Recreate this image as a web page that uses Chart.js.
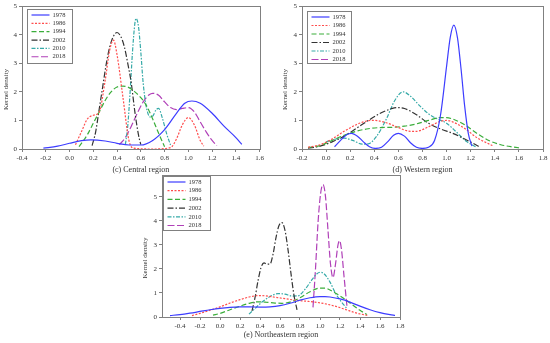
<!DOCTYPE html>
<html>
<head>
<meta charset="utf-8">
<script src="https://cdn.jsdelivr.net/npm/chart.js@4"></script>
<style>
  body { margin: 0; background: #fff; width: 550px; height: 343px; overflow: hidden; position: relative; }
  canvas { position: absolute; }
</style>
</head>
<body>
<canvas id="central" width="266" height="178" style="left:0;top:0"></canvas>
<canvas id="western" width="275" height="178" style="left:275px;top:0"></canvas>
<canvas id="northeast" width="290" height="178" style="left:130px;top:165px"></canvas>
<script>
const years = ['1978', '1986', '1994', '2002', '2010', '2018'];
const colors = ['#3d3dff', '#ff4d4d', '#3aad3a', '#333333', '#36aaa8', '#b040b8'];
const dashes = [[], [2, 1.5], [5, 2.5], [6, 2, 1.5, 2], [4, 1.5, 1.5, 1.5], [7, 2.5]];

// x ticks per panel
const ticksC = [-0.4, -0.2, 0, 0.2, 0.4, 0.6, 0.8, 1.0, 1.2, 1.4, 1.6];
const ticksD = [-0.2, 0, 0.2, 0.4, 0.6, 0.8, 1.0, 1.2, 1.4, 1.6, 1.8];
const ticksE = [-0.4, -0.2, 0, 0.2, 0.4, 0.6, 0.8, 1.0, 1.2, 1.4, 1.6, 1.8];
const yTicks = [0, 1, 2, 3, 4, 5];

// (c) Central region
const central1978 = [[-0.22,0.03],[-0.1,0.1],[0,0.2],[0.1,0.29],[0.18,0.32],[0.3,0.28],[0.4,0.2],[0.5,0.14],[0.6,0.14],[0.7,0.3],[0.8,0.68],[0.9,1.25],[0.97,1.6],[1.03,1.68],[1.1,1.6],[1.2,1.25],[1.3,0.8],[1.4,0.4],[1.45,0.16]];
const central1986 = [[0.05,0.15],[0.1,0.6],[0.15,1.05],[0.2,1.18],[0.25,1.3],[0.3,2.4],[0.34,3.5],[0.37,3.81],[0.4,3.3],[0.45,1.8],[0.5,0.3],[0.54,0.03],[0.7,0],[0.85,0.05],[0.9,0.35],[0.95,0.85],[1.0,1.1],[1.05,0.85],[1.1,0.3],[1.13,0.1]];
const central1994 = [[0.08,0.08],[0.15,0.5],[0.2,0.9],[0.25,1.3],[0.3,1.7],[0.35,2.0],[0.4,2.17],[0.45,2.2],[0.5,2.15],[0.55,2.0],[0.6,1.8],[0.65,1.5],[0.7,1.05],[0.75,0.55],[0.8,0.08]];
const central2002 = [[0.19,0.12],[0.22,0.6],[0.25,1.4],[0.28,2.2],[0.31,3.0],[0.34,3.6],[0.37,3.95],[0.4,4.08],[0.43,3.95],[0.46,3.6],[0.49,3.0],[0.52,2.3],[0.55,1.3],[0.58,0.5],[0.6,0.15]];
const central2010 = [[0.47,0.15],[0.49,0.8],[0.51,2.0],[0.53,3.4],[0.55,4.4],[0.56,4.57],[0.58,4.3],[0.6,3.4],[0.62,2.3],[0.65,1.4],[0.68,1.12],[0.7,1.15],[0.73,1.38],[0.75,1.42],[0.78,1.1],[0.82,0.5],[0.85,0.14]];
const central2018 = [[0.42,0.15],[0.47,0.4],[0.52,0.8],[0.57,1.25],[0.62,1.65],[0.67,1.9],[0.7,1.95],[0.75,1.88],[0.8,1.65],[0.85,1.45],[0.9,1.38],[0.95,1.42],[1.0,1.45],[1.05,1.3],[1.1,0.95],[1.15,0.6],[1.2,0.3],[1.24,0.12]];

// (d) Western region
const western1978 = [[0.07,0.08],[0.12,0.3],[0.17,0.5],[0.21,0.55],[0.26,0.45],[0.31,0.25],[0.36,0.08],[0.41,0.02],[0.46,0.06],[0.51,0.25],[0.56,0.48],[0.6,0.55],[0.65,0.45],[0.7,0.22],[0.75,0.06],[0.8,0.02],[0.85,0.06],[0.9,0.3],[0.95,1.2],[1.0,2.9],[1.03,3.9],[1.06,4.34],[1.09,3.9],[1.12,2.8],[1.15,1.5],[1.18,0.55],[1.21,0.1]];
const western1986 = [[-0.15,0.06],[-0.05,0.15],[0.05,0.35],[0.15,0.62],[0.25,0.85],[0.35,0.99],[0.4,1.0],[0.5,0.92],[0.6,0.75],[0.7,0.62],[0.75,0.62],[0.85,0.78],[0.95,0.97],[1.0,1.0],[1.05,0.95],[1.15,0.72],[1.25,0.4],[1.38,0.12]];
const western1994 = [[-0.15,0.05],[-0.05,0.12],[0.05,0.3],[0.15,0.48],[0.25,0.62],[0.35,0.71],[0.45,0.75],[0.55,0.76],[0.65,0.8],[0.75,0.88],[0.85,1.0],[0.95,1.1],[1.0,1.1],[1.05,1.05],[1.15,0.85],[1.25,0.55],[1.35,0.3],[1.45,0.15],[1.55,0.07],[1.62,0.03]];
const western2002 = [[-0.15,0.03],[-0.05,0.1],[0.05,0.25],[0.15,0.45],[0.25,0.72],[0.35,1.0],[0.45,1.25],[0.55,1.42],[0.6,1.45],[0.65,1.42],[0.75,1.2],[0.85,0.9],[0.95,0.7],[1.05,0.55],[1.15,0.35],[1.22,0.2],[1.28,0.06]];
const western2010 = [[0,0.25],[0.08,0.35],[0.15,0.38],[0.22,0.3],[0.3,0.17],[0.35,0.18],[0.42,0.45],[0.5,1.05],[0.57,1.7],[0.64,2.0],[0.7,1.85],[0.78,1.5],[0.86,1.2],[0.92,1.06],[1.0,0.9],[1.08,0.6],[1.16,0.28],[1.24,0.08]];
const western2018 = [];

// (e) Northeastern region
const northeast1978 = [[-0.5,0.06],[-0.4,0.1],[-0.3,0.16],[-0.2,0.23],[-0.1,0.3],[0,0.36],[0.1,0.4],[0.2,0.42],[0.3,0.42],[0.4,0.41],[0.5,0.42],[0.6,0.47],[0.7,0.57],[0.8,0.7],[0.9,0.8],[1.0,0.85],[1.05,0.85],[1.1,0.83],[1.2,0.75],[1.3,0.62],[1.4,0.45],[1.5,0.3],[1.6,0.18],[1.7,0.1],[1.75,0.07]];
const northeast1986 = [[-0.28,0.06],[-0.2,0.15],[-0.1,0.28],[0,0.42],[0.1,0.58],[0.2,0.72],[0.3,0.84],[0.38,0.89],[0.45,0.88],[0.55,0.82],[0.65,0.76],[0.75,0.7],[0.85,0.66],[0.95,0.62],[1.05,0.55],[1.15,0.45],[1.25,0.32],[1.35,0.18],[1.48,0.06]];
const northeast1994 = [[-0.07,0.08],[0,0.15],[0.1,0.3],[0.2,0.45],[0.3,0.58],[0.38,0.63],[0.45,0.62],[0.55,0.58],[0.62,0.57],[0.7,0.62],[0.8,0.8],[0.9,1.05],[1.0,1.2],[1.05,1.2],[1.1,1.12],[1.2,0.88],[1.3,0.58],[1.4,0.28],[1.47,0.1]];
const northeast2002 = [[0.32,0.25],[0.35,0.8],[0.38,1.5],[0.41,2.05],[0.44,2.25],[0.47,2.2],[0.5,2.2],[0.53,2.6],[0.56,3.3],[0.59,3.8],[0.62,3.92],[0.65,3.6],[0.68,2.8],[0.71,1.8],[0.74,0.9],[0.77,0.3]];
const northeast2010 = [[0.29,0.12],[0.35,0.35],[0.42,0.62],[0.5,0.85],[0.58,0.97],[0.65,0.95],[0.72,0.87],[0.78,0.88],[0.85,1.15],[0.92,1.55],[0.97,1.8],[1.0,1.86],[1.04,1.8],[1.1,1.45],[1.16,0.95],[1.22,0.6],[1.27,0.35]];
const northeast2018 = [[0.93,0.4],[0.955,2.0],[0.98,3.9],[1.005,5.1],[1.03,5.5],[1.055,5.0],[1.08,3.6],[1.105,2.2],[1.13,1.64],[1.155,2.2],[1.18,3.0],[1.195,3.17],[1.215,2.8],[1.24,1.7],[1.27,0.43]];

const serif = 'Liberation Serif';
const grey = '#808080';

function makeSets(series) {
  return series.map((pts, i) => ({
    label: years[i],
    data: pts.map(p => ({ x: p[0], y: p[1] })),
    showLine: true,
    borderColor: colors[i],
    borderWidth: 1.2,
    borderDash: dashes[i],
    pointRadius: 0,
    cubicInterpolationMode: 'monotone',
    fill: false
  }));
}

// frame, rotated y title and boxed legend
function panelPlugin(p) {
  return {
    id: 'panel',
    afterDraw(chart) {
      const ctx = chart.ctx;
      const a = chart.chartArea;
      ctx.save();
      ctx.strokeStyle = grey;
      ctx.lineWidth = 1;
      ctx.strokeRect(Math.round(a.left) + 0.5, Math.round(a.top) + 0.5, Math.round(a.right - a.left), Math.round(a.bottom - a.top));

      ctx.fillStyle = '#333';
      ctx.font = '7px "' + serif + '"';
      ctx.textAlign = 'center';
      ctx.textBaseline = 'middle';
      ctx.translate(p.yTitleX, (a.top + a.bottom) / 2 + 12);
      ctx.rotate(-Math.PI / 2);
      ctx.fillText('Kernel density', 0, 0);
      ctx.restore();

      ctx.save();
      const bx = Math.round(a.left + p.lx) + 0.5, by = Math.round(a.top + p.ly) + 0.5;
      ctx.fillStyle = '#fff';
      ctx.fillRect(bx, by, p.lw, p.lh);
      ctx.strokeStyle = grey;
      ctx.strokeRect(bx, by, p.lw, p.lh);
      ctx.font = '6.5px "' + serif + '"';
      ctx.textBaseline = 'middle';
      ctx.textAlign = 'left';
      chart.data.datasets.forEach((ds, i) => {
        const yy = by + 5.5 + i * p.row;
        ctx.strokeStyle = ds.borderColor;
        ctx.lineWidth = 1.2;
        ctx.setLineDash(ds.borderDash);
        ctx.beginPath();
        ctx.moveTo(bx + 4, yy);
        ctx.lineTo(bx + 22, yy);
        ctx.stroke();
        ctx.setLineDash([]);
        ctx.fillStyle = '#333';
        ctx.fillText(ds.label, bx + 25, yy);
      });
      ctx.restore();
    }
  };
}

function makeChart(id, series, p) {
  return new Chart(document.getElementById(id), {
    type: 'scatter',
    data: { datasets: makeSets(series) },
    options: {
      responsive: false,
      animation: false,
      layout: { padding: { top: p.top, right: p.right, left: 0, bottom: 0 } },
      plugins: { legend: { display: false }, tooltip: { enabled: false } },
      scales: {
        x: {
          type: 'linear', min: p.xmin, max: p.xmax,
          afterBuildTicks: s => { s.ticks = p.xticks.map(v => ({ value: v })); },
          afterFit: s => { s.height = p.xh; },
          grid: { drawOnChartArea: false, tickLength: 3, color: grey },
          border: { color: grey },
          ticks: { font: { family: serif, size: 7 }, color: '#333', padding: 2, maxRotation: 0, autoSkip: false,
                   callback: v => v.toFixed(1) },
          title: { display: true, text: p.title, font: { family: serif, size: 8 }, color: '#333', padding: { top: 0, bottom: 3 } }
        },
        y: {
          type: 'linear', min: 0, max: p.ymax,
          afterBuildTicks: s => { s.ticks = yTicks.map(v => ({ value: v })); },
          afterFit: s => { s.width = p.yw; },
          grid: { drawOnChartArea: false, tickLength: 3, color: grey },
          border: { color: grey },
          ticks: { font: { family: serif, size: 7 }, color: '#333', padding: 2, callback: v => String(v) }
        }
      }
    },
    plugins: [panelPlugin(p)]
  });
}

makeChart('central', [central1978, central1986, central1994, central2002, central2010, central2018], {
  top: 6, right: 5, yw: 22, xh: 29, xmin: -0.4, xmax: 1.6, ymax: 5, xticks: ticksC,
  title: '(c) Central region', yTitleX: 6, lx: 5, ly: 3, lw: 45, lh: 54, row: 8.35
});
makeChart('western', [western1978, western1986, western1994, western2002, western2010, western2018], {
  top: 6, right: 7, yw: 27, xh: 29, xmin: -0.2, xmax: 1.8, ymax: 5, xticks: ticksD,
  title: '(d) Western region', yTitleX: 10, lx: 5, ly: 5, lw: 44, lh: 52, row: 8.5
});
makeChart('northeast', [northeast1978, northeast1986, northeast1994, northeast2002, northeast2010, northeast2018], {
  top: 10, right: 20, yw: 32, xh: 26, xmin: -0.58, xmax: 1.8, ymax: 5.9, xticks: ticksE,
  title: '(e) Northeastern region', yTitleX: 15, lx: 1, ly: 1, lw: 47, lh: 54, row: 8.7
});
</script>
</body>
</html>
